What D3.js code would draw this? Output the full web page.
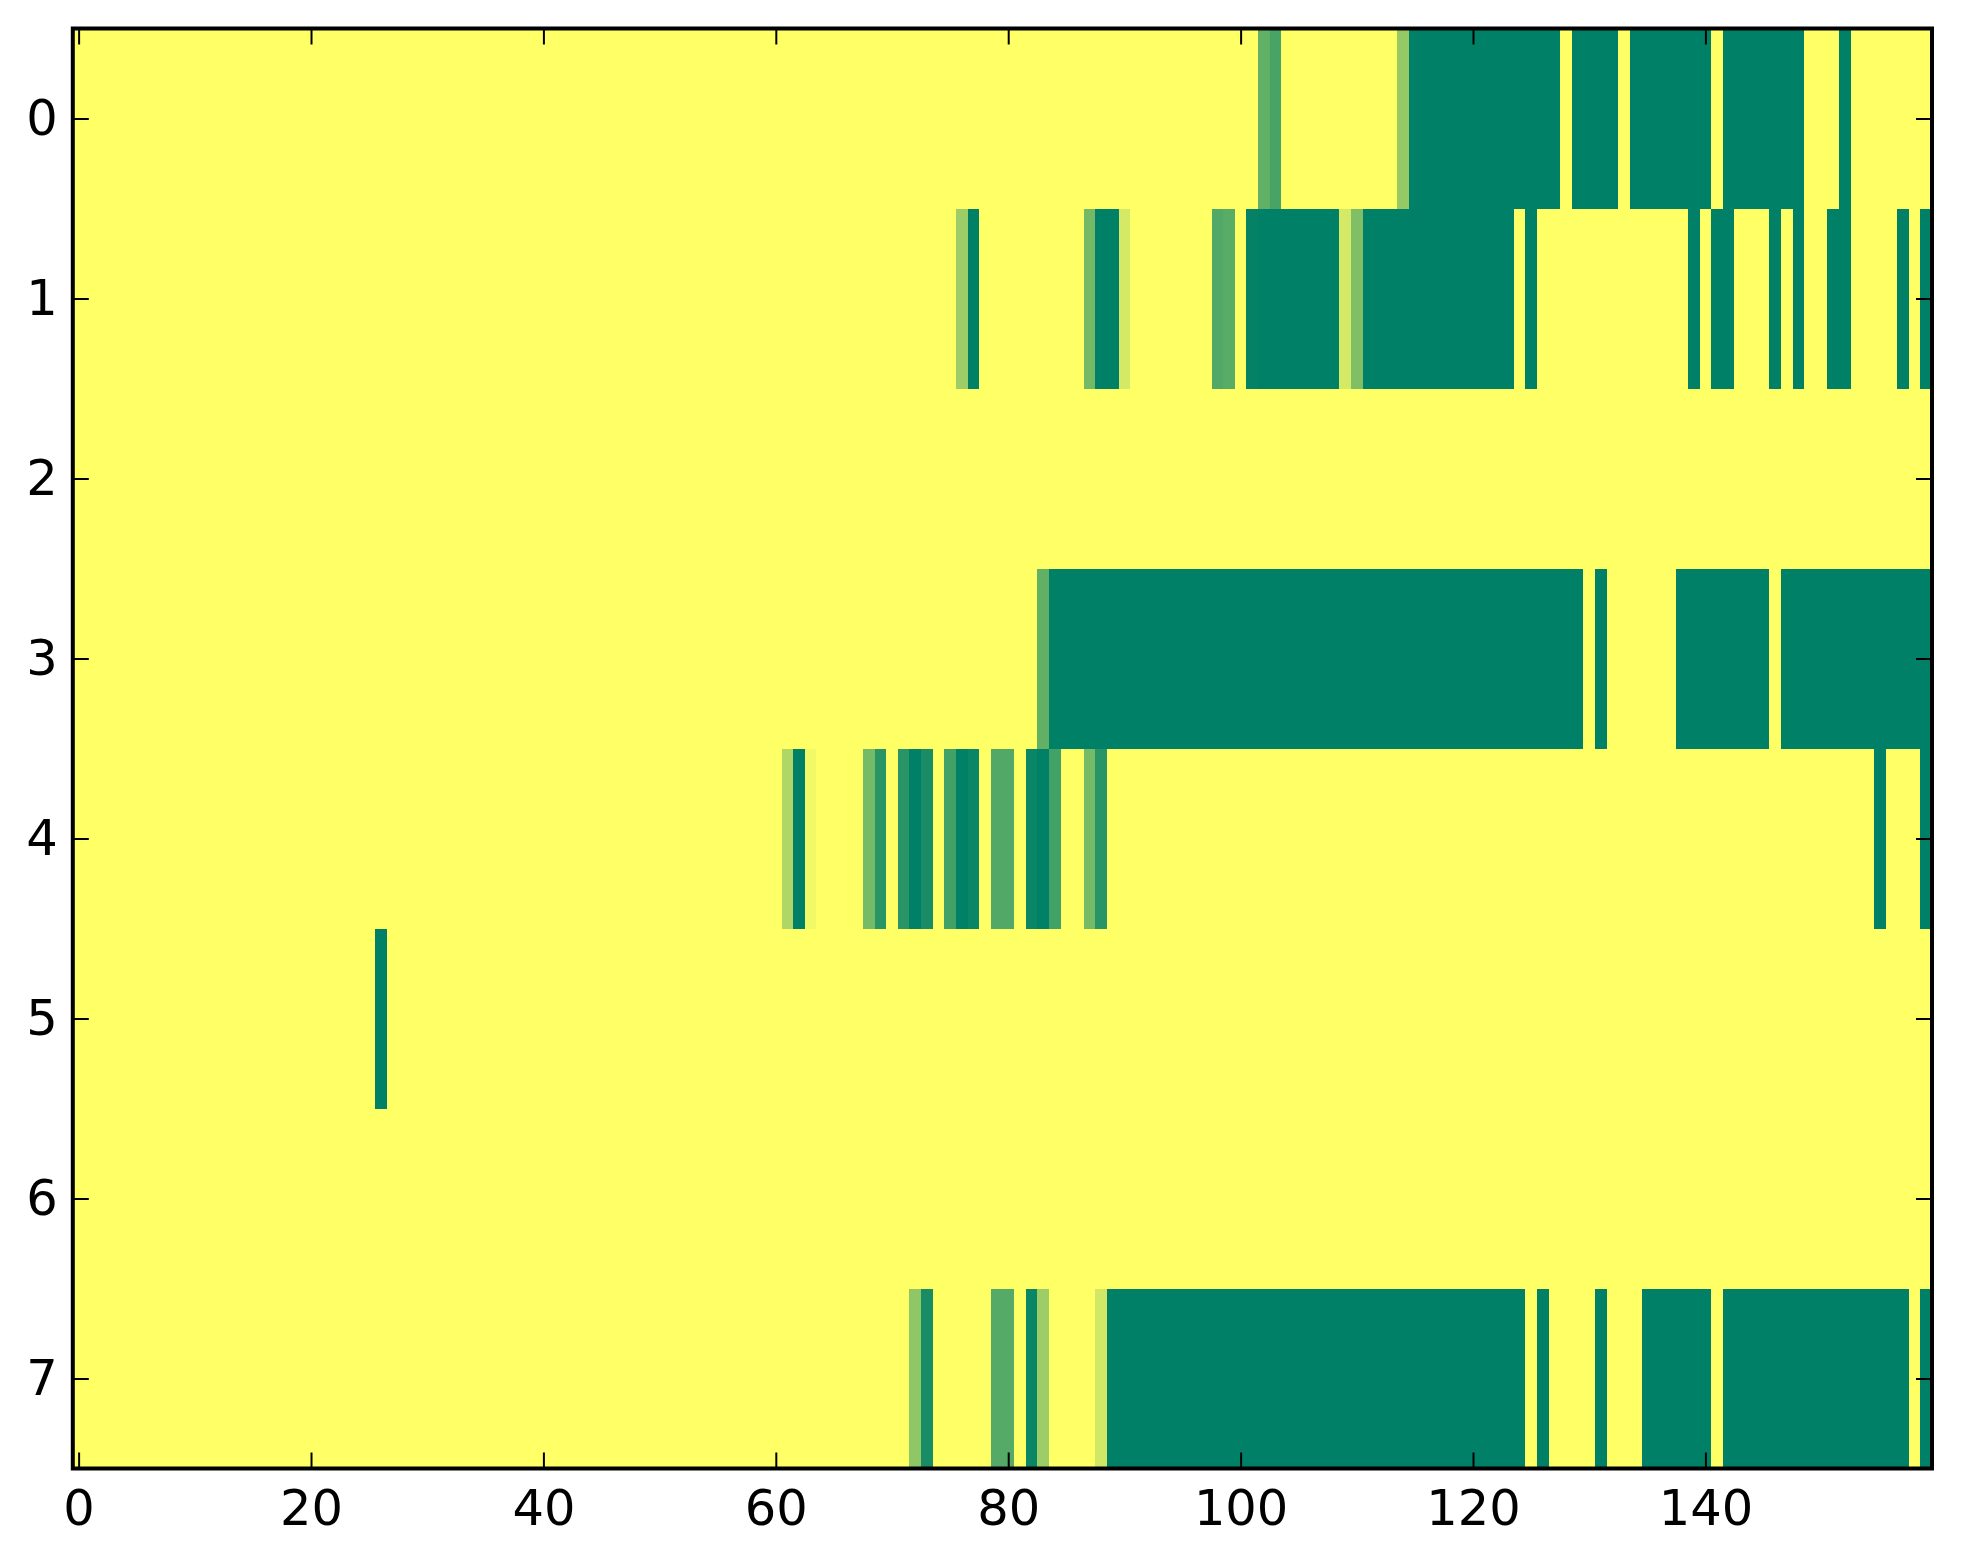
<!DOCTYPE html>
<html>
<head>
<meta charset="utf-8">
<script src="https://cdn.jsdelivr.net/npm/d3@7"></script>
<style>
  html, body { margin: 0; padding: 0; background: #ffffff; }
  svg { display: block; }
</style>
</head>
<body>
<script>
// ---- data (run-length encoded rows: [value, count]) ----
const row0 = [[0,102],[0.62,1],[0.72,1],[0,10],[0.42,1],[1,13],[0,1],[1,4],[0,1],[1,7],[0,1],[1,7],[0,3],[1,1],[0,7]];
const row1 = [[0,76],[0.39,1],[1,1],[0,9],[0.55,1],[1,2],[0.17,1],[0,7],[0.68,1],[0.65,1],[0,1],[0.98,1],[1,7],[0.17,1],[0.5,1],[1,13],[0,1],[1,1],[0,13],[1,1],[0,1],[1,2],[0,3],[1,1],[0,1],[1,1],[0,2],[1,2],[0,4],[1,1],[0,1],[1,1]];
const row2 = [[0,160]];
const row3 = [[0,83],[0.62,1],[1,46],[0,1],[1,1],[0,6],[1,8],[0,1],[1,13]];
const row4 = [[0,61],[0.31,1],[1,1],[0.05,1],[0,4],[0.54,1],[0.84,1],[0,1],[0.84,1],[1,1],[0.9,1],[0,1],[0.74,1],[1,1],[0.96,1],[0,1],[0.68,2],[0,1],[0.96,1],[1,1],[0.74,1],[0,2],[0.54,1],[0.84,1],[0,66],[1,1],[0,3],[1,1]];
const row5 = [[0,26],[1,1],[0,133]];
const row6 = [[0,160]];
const row7 = [[0,72],[0.44,1],[0.9,1],[0,5],[0.67,2],[0,1],[0.96,1],[0.39,1],[0,4],[0.18,1],[1,36],[0,1],[1,1],[0,4],[1,1],[0,3],[1,6],[0,1],[1,16],[0,1],[1,1]];
const rowRuns = [row0, row1, row2, row3, row4, row5, row6, row7];
const xTickValues = [0, 20, 40, 60, 80, 100, 120, 140];
const yTickValues = [0, 1, 2, 3, 4, 5, 6, 7];
const nCols = 160;

// ---- layout ----
const W = 1963, H = 1564;
const plotLeft = 72.8, plotRight = 1932, plotTop = 28.5, plotBottom = 1468.5;

const svg = d3.select("body").append("svg").attr("width", W).attr("height", H);
svg.append("rect").attr("width", W).attr("height", H).attr("fill", "#ffffff");

const x = d3.scaleLinear().domain([-0.5, nCols - 0.5]).range([plotLeft, plotRight]);
const y = d3.scaleLinear().domain([-0.5, rowRuns.length - 0.5]).range([plotTop, plotBottom]);

// summer_r colormap
const color = v => d3.rgb(255 * (1 - v), 255 * (1 - v / 2), 102).toString();

// expand runs into cells
const cells = [];
rowRuns.forEach((runs, r) => {
  let c = 0;
  runs.forEach(([v, n]) => {
    for (let k = 0; k < n; k++) { cells.push({ row: r, col: c, v: v }); c++; }
  });
});

const g = svg.append("g").attr("shape-rendering", "crispEdges");
g.selectAll("rect.cell").data(cells).enter().append("rect")
  .attr("class", "cell")
  .attr("x", d => x(d.col - 0.5))
  .attr("y", d => y(d.row - 0.5))
  .attr("width", d => x(d.col + 0.5) - x(d.col - 0.5) + (d.col < nCols - 1 ? 0.8 : 0))
  .attr("height", d => y(d.row + 0.5) - y(d.row - 0.5) + (d.row < rowRuns.length - 1 ? 0.8 : 0))
  .attr("fill", d => color(d.v));

const fontFamily = "'DejaVu Sans', sans-serif";
const fontSize = 49.5;
const tickLen = 16;

function styleAxis(sel) {
  sel.select(".domain").remove();
  sel.selectAll(".tick line").attr("stroke", "#000").attr("stroke-width", 2);
  sel.selectAll(".tick text").attr("fill", "#000").style("font-family", fontFamily).style("font-size", fontSize + "px");
}

svg.append("g").attr("transform", `translate(0,${plotBottom})`)
  .call(d3.axisBottom(x).tickValues(xTickValues).tickFormat(d3.format("d")).tickSizeInner(-tickLen).tickSizeOuter(0).tickPadding(21))
  .call(styleAxis);
svg.append("g").attr("transform", `translate(0,${plotTop})`)
  .call(d3.axisTop(x).tickValues(xTickValues).tickFormat("").tickSizeInner(-tickLen).tickSizeOuter(0))
  .call(styleAxis);
svg.append("g").attr("transform", `translate(${plotLeft},0)`)
  .call(d3.axisLeft(y).tickValues(yTickValues).tickFormat(d3.format("d")).tickSizeInner(-tickLen).tickSizeOuter(0).tickPadding(15))
  .call(styleAxis);
svg.append("g").attr("transform", `translate(${plotRight},0)`)
  .call(d3.axisRight(y).tickValues(yTickValues).tickFormat("").tickSizeInner(-tickLen).tickSizeOuter(0))
  .call(styleAxis);

// spines
svg.append("rect")
  .attr("x", plotLeft).attr("y", plotTop)
  .attr("width", plotRight - plotLeft).attr("height", plotBottom - plotTop)
  .attr("fill", "none").attr("stroke", "#000").attr("stroke-width", 4);
</script>
</body>
</html>
